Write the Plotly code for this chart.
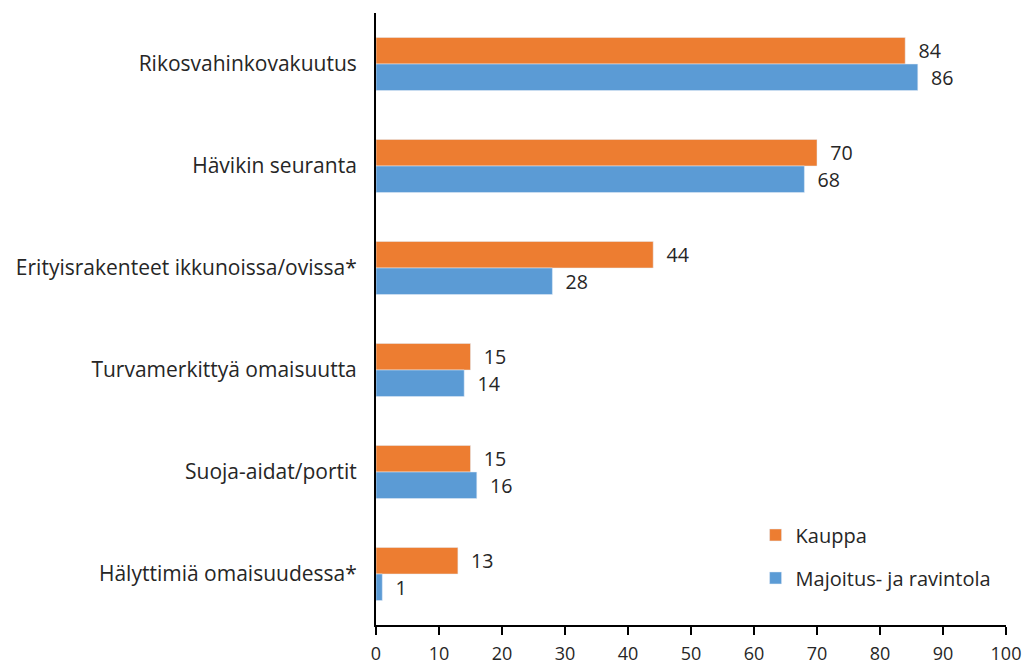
import plotly.graph_objects as go

categories = ["Rikosvahinkovakuutus", "Hävikin seuranta", "Erityisrakenteet ikkunoissa/ovissa*",
              "Turvamerkittyä omaisuutta", "Suoja-aidat/portit", "Hälyttimiä omaisuudessa*"]
kauppa = [84, 70, 44, 15, 15, 13]
majoitus = [86, 68, 28, 14, 16, 1]
x_ticks = [0, 10, 20, 30, 40, 50, 60, 70, 80, 90, 100]

FONT = "Open Sans"
TXT = "#262626"

fig = go.Figure()
fig.add_trace(go.Bar(y=categories, x=kauppa, orientation="h", name="Kauppa",
                     marker=dict(color="#ED7D31"), legendgroup="k",
                     text=kauppa, texttemplate="  %{x}", textposition="outside",
                     textfont=dict(size=20, color=TXT, family=FONT), cliponaxis=False))
fig.add_trace(go.Bar(y=categories, x=majoitus, orientation="h", name="Majoitus- ja ravintola",
                     marker=dict(color="#5B9BD5"), legendgroup="m",
                     text=majoitus, texttemplate="  %{x}", textposition="outside",
                     textfont=dict(size=20, color=TXT, family=FONT), cliponaxis=False))

fig.update_layout(
    width=1024, height=658,
    margin=dict(l=368, r=26, t=5, b=41),
    plot_bgcolor="white", paper_bgcolor="white",
    barmode="group", bargap=0.48, bargroupgap=0,
    font=dict(family=FONT, size=20, color=TXT),
    legend=dict(x=0.6025, y=0.179, xanchor="left", yanchor="top",
                font=dict(size=20, color=TXT, family=FONT),
                traceorder="grouped", itemwidth=30, tracegroupgap=14,
                bgcolor="rgba(0,0,0,0)"),
    uniformtext=dict(mode=False),
)
fig.update_xaxes(range=[0, 100], tickvals=x_ticks, showgrid=False, zeroline=False,
                 showline=True, linecolor="black", linewidth=2, automargin=False,
                 ticks="outside", ticklen=8, tickcolor="black", tickwidth=2,
                 ticklabelstandoff=3,
                 tickfont=dict(size=18, family=FONT, color=TXT))
fig.update_yaxes(categoryorder="array", categoryarray=categories, autorange="reversed",
                 showgrid=False, showline=True, linecolor="black", linewidth=2,
                 ticks="", ticklabelstandoff=13, automargin=False,
                 tickfont=dict(size=21, family=FONT, color=TXT))

fig.write_html("out.html")
